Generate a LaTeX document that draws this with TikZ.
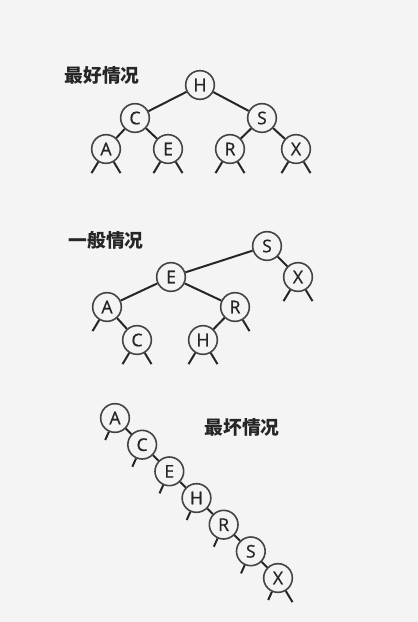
\documentclass[tikz,border=0pt]{standalone}
\usepackage{fontspec}
\usetikzlibrary{positioning}
\newfontfamily\keyfont[FakeBold=0.8]{Open Sans}
\newfontfamily\cjk{Noto Sans CJK SC}
\definecolor{inkgray}{HTML}{262626}
\definecolor{ringgray}{HTML}{444444}
\definecolor{pagegray}{HTML}{F4F4F4}

\begin{document}
\begin{tikzpicture}[x=0.3mm, y=0.3mm,
        key/.style={circle, draw=ringgray, line width=0.48mm, fill=pagegray, minimum size=8.6mm, inner sep=0pt, font=\keyfont\fontsize{15}{15}\selectfont, text=inkgray},
        link/.style={draw=inkgray, line width=0.6mm},
        casename/.style={font=\cjk\bfseries\fontsize{16}{16}\selectfont, text=inkgray}
    ]
        \fill[pagegray] (0,0) rectangle (418,-622);
        \useasboundingbox (0,0) rectangle (418,-622);

        % Best case
        \node[casename] (best) at (102,-75) {最好情况};
        \node[key] (bH) at (200,-85) {H};
        \node[key] (bC) at (135,-118) {C};
        \node[key] (bS) at (262,-118) {S};
        \node[key] (bA) at (106,-149) {A};
        \node[key] (bE) at (168,-149) {E};
        \node[key] (bR) at (230,-149) {R};
        \node[key] (bX) at (296,-149) {X};
        \draw[link] (bH) -- (bC);
        \draw[link] (bH) -- (bS);
        \draw[link] (bC) -- (bA);
        \draw[link] (bC) -- (bE);
        \draw[link] (bS) -- (bR);
        \draw[link] (bS) -- (bX);
        \foreach \n in {bA,bE,bR,bX} {
            \draw[link] (\n.-121) -- ++(-121:13);
            \draw[link] (\n.-59) -- ++(-59:13);
        }

        % Typical case
        \node[casename] (typical) at (106,-240) {一般情况};
        \node[key] (tS) at (267,-246) {S};
        \node[key] (tE) at (171,-277) {E};
        \node[key] (tX) at (298,-277) {X};
        \node[key] (tA) at (107,-307) {A};
        \node[key] (tR) at (235,-307) {R};
        \node[key] (tC) at (137,-340) {C};
        \node[key] (tH) at (203,-340) {H};
        \draw[link] (tS) -- (tE);
        \draw[link] (tS) -- (tX);
        \draw[link] (tE) -- (tA);
        \draw[link] (tE) -- (tR);
        \draw[link] (tA) -- (tC);
        \draw[link] (tR) -- (tH);
        \foreach \n in {tX,tC,tH} {
            \draw[link] (\n.-121) -- ++(-121:13);
            \draw[link] (\n.-59) -- ++(-59:13);
        }
        \draw[link] (tA.-121) -- ++(-121:13);
        \draw[link] (tR.-59) -- ++(-59:13);

        % Worst case
        \node[casename] (worst) at (242,-427) {最坏情况};
        \node[key] (wA) at (115,-418) {A};
        \node[key, on grid, below right=8.0mm and 8.15mm of wA] (wC) {C};
        \node[key, on grid, below right=8.0mm and 8.15mm of wC] (wE) {E};
        \node[key, on grid, below right=8.0mm and 8.15mm of wE] (wH) {H};
        \node[key, on grid, below right=8.0mm and 8.15mm of wH] (wR) {R};
        \node[key, on grid, below right=8.0mm and 8.15mm of wR] (wS) {S};
        \node[key, on grid, below right=8.0mm and 8.15mm of wS] (wX) {X};
        \draw[link] (wA) -- (wC);
        \draw[link] (wC) -- (wE);
        \draw[link] (wE) -- (wH);
        \draw[link] (wH) -- (wR);
        \draw[link] (wR) -- (wS);
        \draw[link] (wS) -- (wX);
        \foreach \n in {wA,wC,wE,wH,wR,wS,wX} {
            \draw[link] (\n.-114) -- ++(-114:9);
        }
        \draw[link] (wX.-59) -- ++(-59:13);
    \end{tikzpicture}
\end{document}
